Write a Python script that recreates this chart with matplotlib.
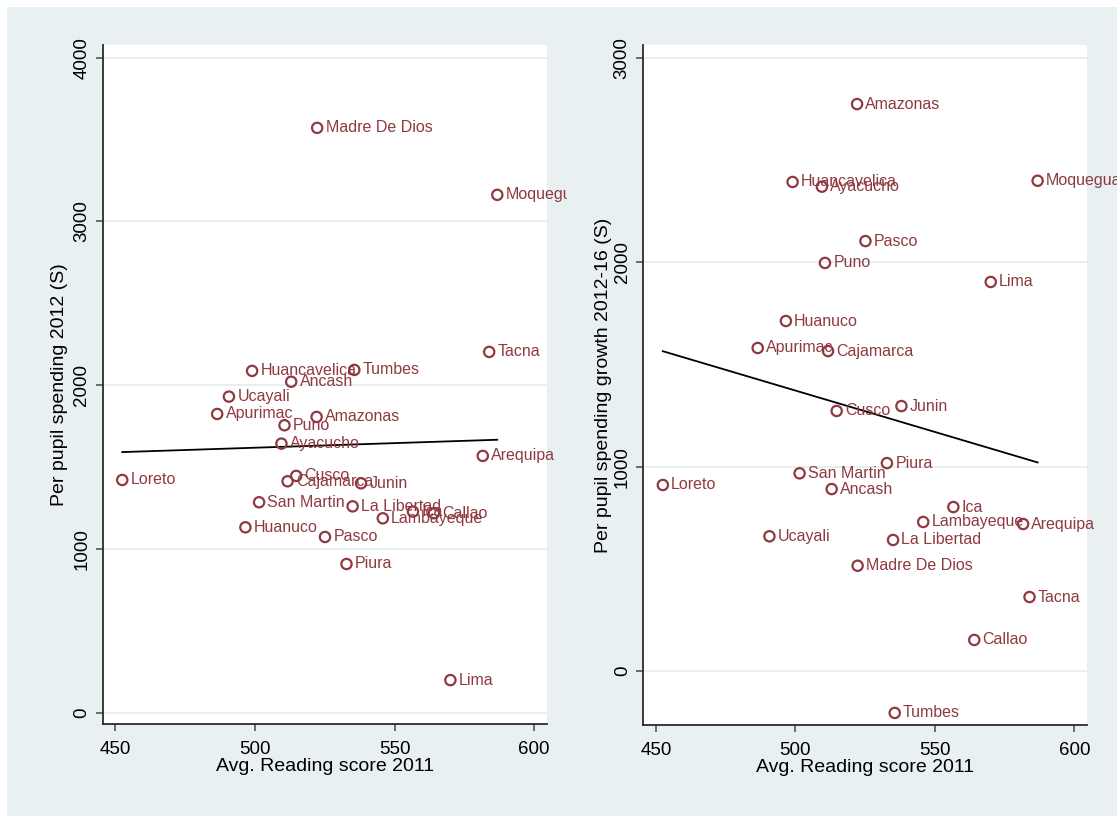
import numpy as np
import matplotlib
matplotlib.use("Agg")
import matplotlib.pyplot as plt
from matplotlib.patches import Rectangle

plt.rcParams['font.family'] = ['Liberation Sans', 'DejaVu Sans']

# Regional data: reading score 2011, per-pupil spending 2012, spending growth 2012-16
regions = ["Madre De Dios", "Moquegua", "Tacna", "Huancavelica", "Tumbes", "Ancash",
           "Ucayali", "Apurimac", "Puno", "Amazonas", "Ayacucho", "Arequipa", "Loreto",
           "Cusco", "Cajamarca", "Junin", "San Martin", "La Libertad", "Lambayeque",
           "Ica", "Callao", "Huanuco", "Pasco", "Piura", "Lima"]

reading_2011 = [522.3, 586.8, 583.9, 499.0, 535.6, 513.0,
                490.7, 486.5, 510.6, 522.1, 509.5, 581.6, 452.5,
                514.8, 511.7, 538.0, 501.5, 535.0, 545.8,
                556.6, 564.1, 496.6, 525.1, 532.8, 570.0]

spending_2012 = [3571, 3162, 2203, 2087, 2093, 2021,
                 1930, 1824, 1755, 1806, 1643, 1568, 1421,
                 1446, 1413, 1401, 1285, 1260, 1187,
                 1228, 1218, 1132, 1073, 908, 199]

growth_2012_16 = [515, 2398, 362, 2392, -205, 890,
                  659, 1580, 1996, 2773, 2369, 719, 910,
                  1272, 1565, 1296, 967, 641, 729,
                  802, 152, 1712, 2103, 1017, 1903]

marker_color = "#8e3a40"
bg_color = "#e8f0f2"
grid_color = "#e6eef0"
axis_color = "#2b2b2b"

W, H = 1117, 816
fig = plt.figure(figsize=(W / 100, H / 100), dpi=100)
fig.patch.set_facecolor("white")
fig.add_artist(Rectangle((7 / W, 0), 1 - 7 / W, 1 - 7 / H, transform=fig.transFigure,
                         facecolor=bg_color, edgecolor="none", zorder=0))


def panel(rect, x, y, yticks, ylim, ylabel, ylabel_x, clip_right):
    ax = fig.add_axes(rect)
    ax.set_facecolor("white")
    x = np.asarray(x, float)
    y = np.asarray(y, float)
    ax.scatter(x, y, s=55, facecolors="none", edgecolors=marker_color,
               linewidths=1.6, zorder=3)
    # marker labels are cut at the edge of each sub-graph, not at the plot area
    clip = Rectangle((0, 0), clip_right, 1, transform=fig.transFigure,
                     facecolor="none", edgecolor="none")
    for name, xi, yi in zip(regions, x, y):
        t = ax.annotate(name, (xi, yi), xytext=(6, 0), textcoords="offset points",
                        va="center", ha="left", fontsize=11.5, color=marker_color,
                        annotation_clip=False, zorder=4)
        t.set_clip_on(True)
        t.set_clip_path(clip)
    # least-squares fit line over the observed range of reading scores
    b, a = np.polyfit(x, y, 1)
    xs = np.array([x.min(), x.max()])
    ax.plot(xs, a + b * xs, color="black", lw=1.3, zorder=2)

    ax.set_xlim(445.5, 604.6)
    ax.set_ylim(*ylim)
    ax.set_xticks([450, 500, 550, 600])
    ax.set_yticks(yticks)
    ax.grid(axis="y", color=grid_color, lw=1.3, zorder=0)
    ax.set_axisbelow(True)
    for s in ("top", "right"):
        ax.spines[s].set_visible(False)
    for s in ("left", "bottom"):
        ax.spines[s].set_color(axis_color)
        ax.spines[s].set_linewidth(1.3)
    ax.tick_params(direction="out", length=5, width=1.2, color="#555555",
                   labelsize=13.5)
    ax.tick_params(axis="x", pad=7)
    ax.tick_params(axis="y", pad=4)
    for lab in ax.get_yticklabels():
        lab.set_rotation(90)
        lab.set_va("center")
    ax.set_xlabel("Avg. Reading score 2011", fontsize=14, labelpad=0)
    ax.set_ylabel(ylabel, fontsize=14)
    ax.yaxis.set_label_coords(ylabel_x, 0.5)
    return ax


axL = panel([102.7 / W, 1 - 724 / H, (547 - 102.7) / W, (724 - 45) / H],
            reading_2011, spending_2012, [0, 1000, 2000, 3000, 4000],
            (-69, 4077), "Per pupil spending 2012 (S)", -0.078, 567 / W)

axR = panel([643.3 / W, 1 - 725 / H, (1087.3 - 643.3) / W, (725 - 45) / H],
            reading_2011, growth_2012_16, [0, 1000, 2000, 3000],
            (-264, 3062), "Per pupil spending growth 2012-16 (S)", -0.071, 1.0)

fig.savefig("out.png", dpi=100, facecolor=fig.get_facecolor())
